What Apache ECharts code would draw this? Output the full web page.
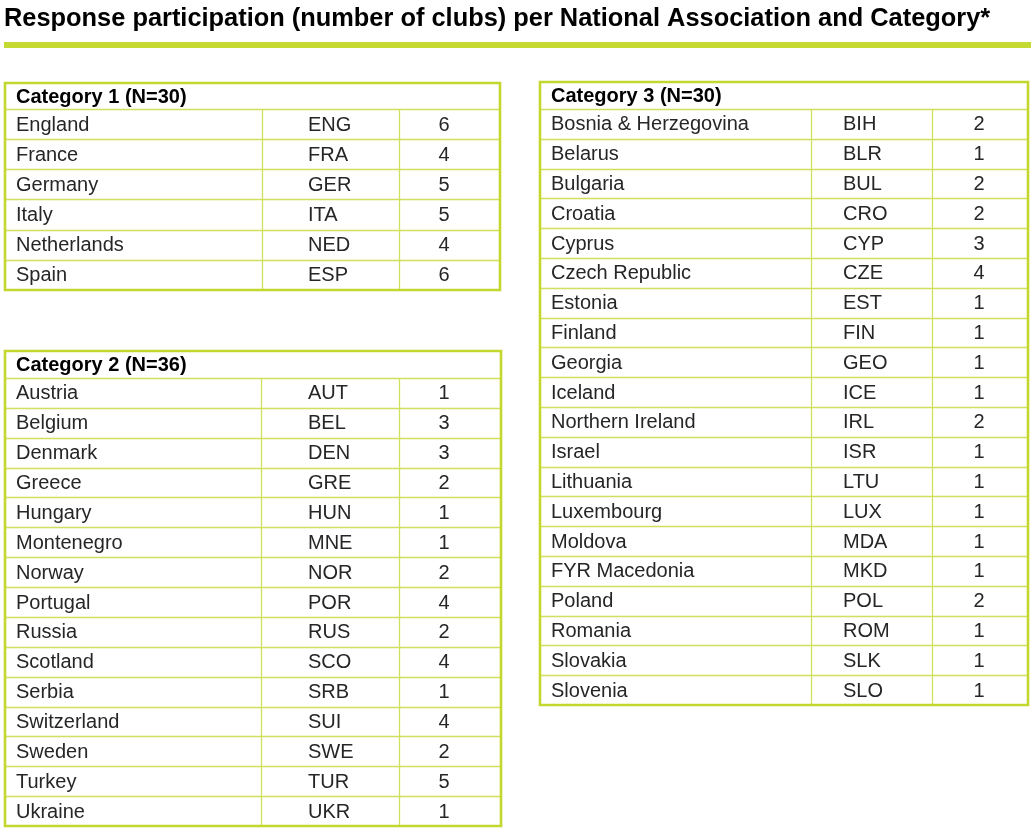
<!DOCTYPE html>
<html>
<head>
<meta charset="utf-8">
<script src="https://cdn.jsdelivr.net/npm/echarts@6/dist/echarts.min.js"></script>
<style>html,body{margin:0;padding:0;background:#fff;}#chart{width:1031px;height:833px;}</style>
</head>
<body>
<div id="chart"></div>
<script>
// ---- data ----
const chartTitle = 'Response participation (number of clubs) per National Association and Category*';

const cat1Header = 'Category 1 (N=30)';
const cat1Names = ['England', 'France', 'Germany', 'Italy', 'Netherlands', 'Spain'];
const cat1Codes = ['ENG', 'FRA', 'GER', 'ITA', 'NED', 'ESP'];
const cat1Values = [6, 4, 5, 5, 4, 6];

const cat2Header = 'Category 2 (N=36)';
const cat2Names = ['Austria', 'Belgium', 'Denmark', 'Greece', 'Hungary', 'Montenegro', 'Norway', 'Portugal', 'Russia', 'Scotland', 'Serbia', 'Switzerland', 'Sweden', 'Turkey', 'Ukraine'];
const cat2Codes = ['AUT', 'BEL', 'DEN', 'GRE', 'HUN', 'MNE', 'NOR', 'POR', 'RUS', 'SCO', 'SRB', 'SUI', 'SWE', 'TUR', 'UKR'];
const cat2Values = [1, 3, 3, 2, 1, 1, 2, 4, 2, 4, 1, 4, 2, 5, 1];

const cat3Header = 'Category 3 (N=30)';
const cat3Names = ['Bosnia & Herzegovina', 'Belarus', 'Bulgaria', 'Croatia', 'Cyprus', 'Czech Republic', 'Estonia', 'Finland', 'Georgia', 'Iceland', 'Northern Ireland', 'Israel', 'Lithuania', 'Luxembourg', 'Moldova', 'FYR Macedonia', 'Poland', 'Romania', 'Slovakia', 'Slovenia'];
const cat3Codes = ['BIH', 'BLR', 'BUL', 'CRO', 'CYP', 'CZE', 'EST', 'FIN', 'GEO', 'ICE', 'IRL', 'ISR', 'LTU', 'LUX', 'MDA', 'MKD', 'POL', 'ROM', 'SLK', 'SLO'];
const cat3Values = [2, 1, 2, 2, 3, 4, 1, 1, 1, 1, 2, 1, 1, 1, 1, 1, 2, 1, 1, 1];

// ---- layout / style (kept apart from the data) ----
const FONT = '"Liberation Sans", Arial, Helvetica, sans-serif';
const OUTER = '#c3d72e';
const INNER = '#d0e05c';
const TEXT = '#262626';

const tables = [
  { header: cat1Header, names: cat1Names, codes: cat1Codes, values: cat1Values,
    layout: { left: 5, top: 109, width: 495, height: 181, headerH: 26, cols: [257, 394] } },
  { header: cat2Header, names: cat2Names, codes: cat2Codes, values: cat2Values,
    layout: { left: 5, top: 378, width: 496, height: 448, headerH: 27, cols: [256, 394] } },
  { header: cat3Header, names: cat3Names, codes: cat3Codes, values: cat3Values,
    layout: { left: 540, top: 109, width: 488, height: 596, headerH: 27, cols: [271, 392] } }
];
const NAME_X = 11, CODE_X = 303, NUM_X = 439;

function makeRender(t) {
  const L = t.layout;
  return function (params, api) {
    const k = api.value(1);
    const c = api.coord([0, k]);
    const h = api.size([0, 1])[1];
    const x0 = c[0];
    const yMid = c[1];
    const yTop = yMid - h / 2;
    const yBot = yMid + h / 2;
    const W = api.coord([L.width, k])[0] - x0;
    const children = [];
    const ry = Math.round(yTop) + 0.5;
    children.push({ type: 'line', shape: { x1: x0, y1: ry, x2: x0 + W, y2: ry },
      style: { stroke: INNER, lineWidth: 1.3 } });
    L.cols.forEach(function (cx) {
      const xx = Math.round(api.coord([cx, k])[0]) + 0.5;
      children.push({ type: 'line', shape: { x1: xx, y1: yTop, x2: xx, y2: yBot },
        style: { stroke: INNER, lineWidth: 1.3 } });
    });
    const idx = params.dataIndex;
    children.push({ type: 'text', style: { text: t.names[idx], x: api.coord([NAME_X, k])[0], y: yMid + 1,
      fill: TEXT, font: '20px ' + FONT, align: 'left', verticalAlign: 'middle' } });
    children.push({ type: 'text', style: { text: t.codes[idx], x: api.coord([CODE_X, k])[0], y: yMid + 1,
      fill: TEXT, font: '20px ' + FONT, align: 'left', verticalAlign: 'middle' } });
    children.push({ type: 'text', style: { text: String(api.value(2)), x: api.coord([NUM_X, k])[0], y: yMid + 1,
      fill: TEXT, font: '20px ' + FONT, align: 'center', verticalAlign: 'middle' } });
    if (idx === 0) {
      const n = t.names.length;
      children.push({ type: 'text', style: { text: t.header, x: api.coord([NAME_X, k])[0], y: yTop - L.headerH / 2 + 1,
        fill: '#000', font: 'bold 20px ' + FONT, align: 'left', verticalAlign: 'middle' } });
      children.push({ type: 'rect', z2: 10,
        shape: { x: x0, y: yTop - L.headerH, width: W, height: n * h + L.headerH },
        style: { fill: 'none', stroke: OUTER, lineWidth: 2.6 } });
    }
    return { type: 'group', children: children };
  };
}

const option = {
  backgroundColor: '#fff',
  animation: false,
  title: {
    text: chartTitle, left: 4, top: 6, padding: 0,
    textStyle: { fontFamily: FONT, fontSize: 25.4, fontWeight: 'bold', color: '#000' }
  },
  graphic: [{
    type: 'rect', left: 4, top: 42, shape: { width: 1027, height: 6 }, style: { fill: '#c5d933' }
  }],
  grid: tables.map(function (t) {
    return { left: t.layout.left, top: t.layout.top, width: t.layout.width, height: t.layout.height, show: false };
  }),
  xAxis: tables.map(function (t, i) {
    return { gridIndex: i, type: 'value', min: 0, max: t.layout.width, show: false };
  }),
  yAxis: tables.map(function (t, i) {
    return { gridIndex: i, type: 'category', data: t.names, inverse: true, show: false };
  }),
  series: tables.map(function (t, i) {
    return {
      type: 'custom', xAxisIndex: i, yAxisIndex: i,
      renderItem: makeRender(t),
      encode: { x: 0, y: 1 },
      data: t.names.map(function (nm, k) { return [0, k, t.values[k]]; })
    };
  })
};

const chart = echarts.init(document.getElementById('chart'), null, { renderer: 'canvas' });
chart.setOption(option);
</script>
</body>
</html>
